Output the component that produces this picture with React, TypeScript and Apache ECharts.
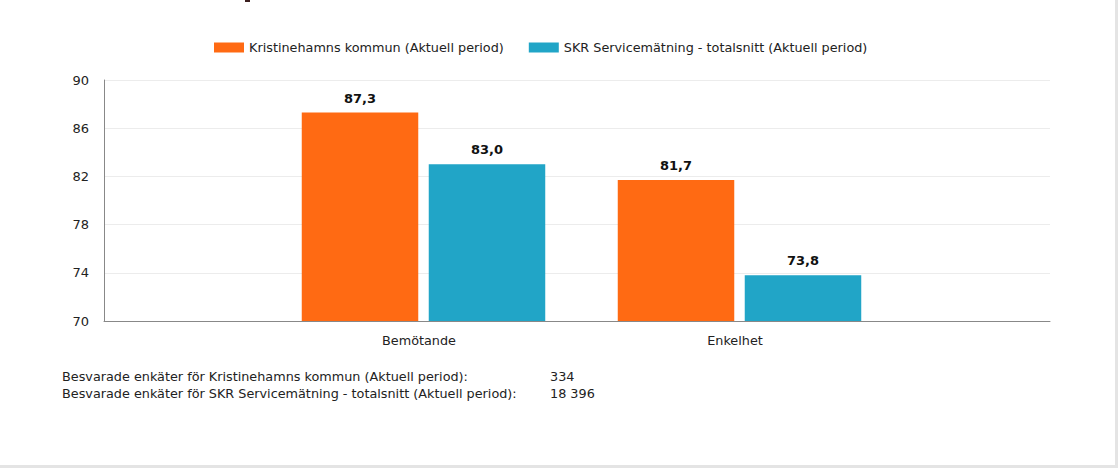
import React, { useEffect, useRef } from "react";
import * as echarts from "echarts";

const categories = ["Bemötande", "Enkelhet"];
const seriesNames = [
  "Kristinehamns kommun (Aktuell period)",
  "SKR Servicemätning - totalsnitt (Aktuell period)",
];
const kristinehamn = [87.3, 81.7];
const skr = [83.0, 73.8];
const yTicks = { min: 70, max: 90, interval: 4 };
const footLabels = [
  "Besvarade enkäter för Kristinehamns kommun (Aktuell period):",
  "Besvarade enkäter för SKR Servicemätning - totalsnitt (Aktuell period):",
];
const footValues = ["334", "18 396"];

const FONT = "'DejaVu Sans', sans-serif";
const FS = 12.8;
const ORANGE = "#ff6a13";
const TEAL = "#21a5c7";

export default function App() {
  const ref = useRef<HTMLDivElement>(null);
  useEffect(() => {
    if (!ref.current) return;
    const chart = echarts.init(ref.current, undefined, { renderer: "svg" });
    const fmt = (p: any) => Number(p.value).toFixed(1).replace(".", ",");
    const label = {
      show: true,
      position: "top" as const,
      distance: 8,
      formatter: fmt,
      fontFamily: FONT,
      fontSize: 13,
      fontWeight: "bold" as const,
      color: "#111",
    };
    chart.setOption({
      animation: false,
      backgroundColor: "transparent",
      textStyle: { fontFamily: FONT },
      legend: {
        left: 209,
        top: 36,
        itemWidth: 30,
        itemHeight: 10,
        itemGap: 25,
        icon: "rect",
        textStyle: { fontFamily: FONT, fontSize: FS, color: "#222" },
        data: seriesNames,
      },
      grid: [
        { left: 104, right: 68, top: 80, bottom: 147 },
        { left: 265.5, right: 220.5, top: 80, bottom: 147 },
      ],
      xAxis: [
        {
          gridIndex: 0,
          type: "category",
          data: ["", ""],
          axisLine: { lineStyle: { color: "#888", width: 1 } },
          axisTick: { show: false },
          axisLabel: { show: false },
        },
        {
          gridIndex: 1,
          type: "category",
          data: categories,
          axisLine: { show: false },
          axisTick: { show: false },
          axisLabel: {
            margin: 13,
            fontFamily: FONT,
            fontSize: FS,
            color: "#222",
            padding: [0, 9, 0, 0],
          },
        },
      ],
      yAxis: [
        {
          gridIndex: 0,
          type: "value",
          min: yTicks.min,
          max: yTicks.max,
          interval: yTicks.interval,
          axisLine: { show: true, lineStyle: { color: "#888", width: 1 } },
          axisTick: { show: false },
          splitLine: { lineStyle: { color: "#ececec" } },
          axisLabel: { margin: 15, fontFamily: FONT, fontSize: 13, color: "#222" },
        },
        {
          gridIndex: 1,
          type: "value",
          min: yTicks.min,
          max: yTicks.max,
          interval: yTicks.interval,
          show: false,
        },
      ],
      series: [
        {
          name: seriesNames[0],
          type: "bar",
          xAxisIndex: 1,
          yAxisIndex: 1,
          data: kristinehamn,
          barWidth: 116.5,
          barGap: "9%",
          itemStyle: { color: ORANGE },
          label,
        },
        {
          name: seriesNames[1],
          type: "bar",
          xAxisIndex: 1,
          yAxisIndex: 1,
          data: skr,
          barWidth: 116.5,
          barGap: "9%",
          itemStyle: { color: TEAL },
          label,
        },
      ],
      graphic: [
        { type: "rect", shape: { x: 245, y: 0, width: 5, height: 2 }, style: { fill: "#3b1f1f" } },
        ...footLabels.map((t, i) => ({
          type: "text",
          left: 62,
          top: 370 + i * 17,
          style: { text: t, fontFamily: FONT, fontSize: FS, fill: "#222" },
        })),
        ...footValues.map((t, i) => ({
          type: "text",
          left: 550,
          top: 370 + i * 17,
          style: { text: t, fontFamily: FONT, fontSize: FS, fill: "#222" },
        })),
      ],
    });
    return () => chart.dispose();
  }, []);
  return (
    <div style={{ position: "fixed", left: 0, top: 0, width: 1118, height: 468, background: "#e4e4e4" }}>
      <div style={{ position: "absolute", left: 0, top: 0, width: 1115, height: 465, background: "#fff" }} />
      <div ref={ref} style={{ position: "absolute", left: 0, top: 0, width: 1118, height: 468 }} />
    </div>
  );
}
